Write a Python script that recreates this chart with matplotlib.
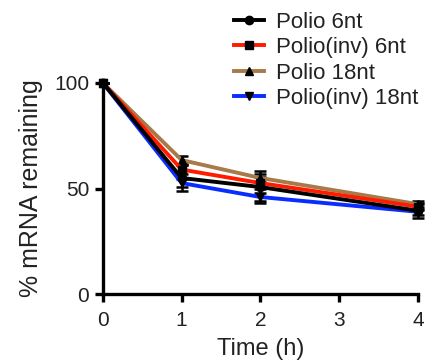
import numpy as np
import matplotlib.pyplot as plt

plt.rcParams['font.family'] = ['Liberation Sans', 'DejaVu Sans']

# données
time_h = [0, 1, 2, 4]
polio_6 = [100, 55, 50.7, 39.5]
polio_6_err = [0, 6, 7.5, 3.5]
polio_inv_6 = [100, 59, 52.6, 41.4]
polio_inv_6_err = [0, 2, 3, 1.5]
polio_18 = [100, 63.5, 55, 42.6]
polio_18_err = [0, 2, 2, 1.5]
polio_inv_18 = [100, 52.6, 46, 39]
polio_inv_18_err = [0, 2, 2, 1.5]

series = [
    ("Polio 6nt", polio_6, polio_6_err, "black", "o"),
    ("Polio(inv) 6nt", polio_inv_6, polio_inv_6_err, "#ff1a00", "s"),
    ("Polio 18nt", polio_18, polio_18_err, "#a87a4a", "^"),
    ("Polio(inv) 18nt", polio_inv_18, polio_inv_18_err, "#0a2cff", "v"),
]

txt = "#222222"

fig = plt.figure(figsize=(4.38, 3.64), dpi=100)
ax = fig.add_axes([0.235, 0.192, 0.719, 0.580])

# ordre de tracé : brun, rouge, bleu, noir au-dessus
handles = {}
for name, vals, err, col, mk in [series[2], series[1], series[3], series[0]]:
    ax.errorbar(time_h, vals, yerr=err, fmt="none", ecolor="black",
                elinewidth=1.8, capsize=4, capthick=1.8, clip_on=False, zorder=2)
    h, = ax.plot(time_h, vals, color=col, lw=2.8, marker=mk, ms=6,
                 mfc="black", mec="black", clip_on=False, zorder=3, label=name)
    handles[name] = h

ax.set_xlim(0, 4)
ax.set_ylim(0, 100)
ax.set_xticks([0, 1, 2, 3, 4])
ax.set_yticks([0, 50, 100])
ax.spines['top'].set_visible(False)
ax.spines['right'].set_visible(False)
ax.spines['left'].set_linewidth(2.4)
ax.spines['bottom'].set_linewidth(2.4)
ax.tick_params(width=2.4, length=6, labelsize=15, labelcolor=txt)
ax.tick_params(axis='x', pad=6)
ax.tick_params(axis='y', pad=4)
ax.set_xlabel("Time (h)", fontsize=17, labelpad=6, color=txt)
ax.set_ylabel("% mRNA remaining", fontsize=18, labelpad=8, color=txt)

leg = fig.legend([handles[s[0]] for s in series], [s[0] for s in series],
                 loc="upper left", bbox_to_anchor=(0.534, 0.968), frameon=False,
                 fontsize=16, handlelength=1.35, handletextpad=0.55,
                 labelspacing=0.2, borderaxespad=0, borderpad=0,
                 markerscale=1.0)
for t in leg.get_texts():
    t.set_color(txt)

fig.savefig("out.png", dpi=100)
